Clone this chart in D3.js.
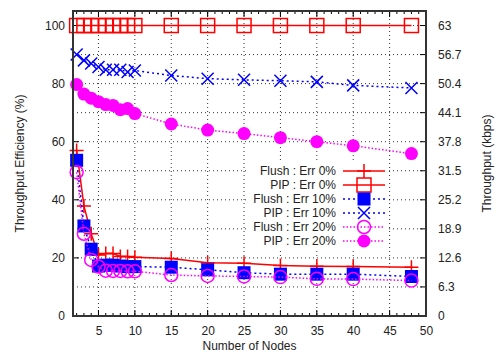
<!DOCTYPE html>
<html><head><meta charset="utf-8">
<script src="https://cdn.jsdelivr.net/npm/d3@7/dist/d3.min.js"></script>
<style>body{margin:0;background:#fff}svg{font-family:"Liberation Sans",Arial,sans-serif}</style>
</head><body><svg id="c" width="498" height="360"></svg>
<script>
const nodes = [2,3,4,5,6,7,8,9,10,15,20,25,30,35,40,48];
const flush0 = [57,37.9,28.3,21,21.5,21.5,20.5,20.5,20.2,19.8,18.3,18.2,17.4,17.1,17,16.8];
const pip0 = [100,100,100,100,100,100,100,100,100,100,100,100,100,100,100,100];
const flush10 = [53.6,31,23,17.2,17.5,17.5,17.2,17,17,16.8,15.9,14.9,14.4,14.4,14.4,13.6];
const pip10 = [90,88,86.9,85.7,84.8,84.8,84.8,84,84.5,82.8,81.7,81.3,81,80.6,79.4,78.5];
const flush20 = [49.5,28.3,19.3,17,15.6,15.5,15.5,15.4,15.4,14.1,13.8,13.6,13.4,12.8,12.7,12.2];
const pip20 = [79.7,76.4,75,73.8,72.8,72.5,71,71.4,69.7,66.1,64,62.8,61.4,60,58.6,55.9];
const xTicks = [5,10,15,20,25,30,35,40,45,50];
const yTicks = [0,20,40,60,80,100];
const y2Ticks = [0,6.3,12.6,18.9,25.2,31.5,37.8,44.1,50.4,56.7,63];
const seriesNames = ["Flush : Err 0%","PIP : Err 0%","Flush : Err 10%","PIP : Err 10%","Flush : Err 20%","PIP : Err 20%"];

const svg = d3.select("#c");
const L=73,R=426,T=11,B=316;
const x = d3.scaleLinear().domain([1.5,50]).range([L,R]);
const y = d3.scaleLinear().domain([0,105]).range([B,T]);
const y2 = d3.scaleLinear().domain([0,63*1.05]).range([B,T]);

// grid
const g = svg.append("g");
xTicks.filter(d=>d<50).forEach(d=>g.append("line").attr("x1",x(d)).attr("x2",x(d)).attr("y1",T).attr("y2",B)
  .attr("stroke","#000").attr("stroke-width",0.8).attr("stroke-dasharray","1,3"));
d3.range(10,101,10).forEach(d=>g.append("line").attr("x1",L).attr("x2",R).attr("y1",y(d)).attr("y2",y(d))
  .attr("stroke","#000").attr("stroke-width",0.8).attr("stroke-dasharray","1,3"));

// axes
const ax = svg.append("g").attr("transform",`translate(0,${B})`).call(d3.axisBottom(x).tickValues(xTicks).tickSize(0).tickPadding(10));
const axl = svg.append("g").attr("transform",`translate(${L},0)`).call(d3.axisLeft(y).tickValues(yTicks).tickSize(0).tickPadding(8));
const axr = svg.append("g").attr("transform",`translate(${R},0)`).call(d3.axisRight(y2).tickValues(y2Ticks).tickSize(0).tickPadding(12).tickFormat(d=>d));
[ax,axl,axr].forEach(a=>{a.select(".domain").remove();a.selectAll("text").attr("font-size",12).attr("fill","#222")
  .attr("font-family","'Liberation Sans',Arial,sans-serif");});

// tick marks (inward)
const tk = svg.append("g").attr("stroke","#000").attr("stroke-width",1);
xTicks.forEach(d=>{tk.append("line").attr("x1",x(d)).attr("x2",x(d)).attr("y1",B).attr("y2",B-6);
  tk.append("line").attr("x1",x(d)).attr("x2",x(d)).attr("y1",T).attr("y2",T+6);});
d3.range(2,50,1).forEach(d=>{tk.append("line").attr("x1",x(d)).attr("x2",x(d)).attr("y1",B).attr("y2",B-3);
  tk.append("line").attr("x1",x(d)).attr("x2",x(d)).attr("y1",T).attr("y2",T+3);});
yTicks.forEach(d=>tk.append("line").attr("x1",L).attr("x2",L+6).attr("y1",y(d)).attr("y2",y(d)));
y2Ticks.forEach(d=>tk.append("line").attr("x1",R).attr("x2",R-6).attr("y1",y2(d)).attr("y2",y2(d)));

// marker drawing
function marker(sel,type,color){
  if(type==="plus"){sel.append("path").attr("d","M-7,0H7M0,-7V7").attr("stroke",color).attr("stroke-width",1.5).attr("fill","none");}
  else if(type==="osq"){sel.append("rect").attr("x",-7).attr("y",-7).attr("width",14).attr("height",14).attr("fill","none").attr("stroke",color).attr("stroke-width",1.5);}
  else if(type==="fsq"){sel.append("rect").attr("x",-6.5).attr("y",-6.5).attr("width",13).attr("height",13).attr("fill",color);}
  else if(type==="x"){sel.append("path").attr("d","M-6,-6L6,6M-6,6L6,-6").attr("stroke",color).attr("stroke-width",1.5).attr("fill","none");}
  else if(type==="oc"){sel.append("circle").attr("r",6.5).attr("fill","none").attr("stroke",color).attr("stroke-width",1.5);}
  else if(type==="fc"){sel.append("circle").attr("r",6.5).attr("fill",color);}
}
const series = [
  {name:seriesNames[0],vals:flush0,color:"#ff0000",dash:null,m:"plus"},
  {name:seriesNames[1],vals:pip0,color:"#ff0000",dash:null,m:"osq"},
  {name:seriesNames[2],vals:flush10,color:"#0000ff",dash:"2,3",m:"fsq"},
  {name:seriesNames[3],vals:pip10,color:"#0000ff",dash:"2,3",m:"x"},
  {name:seriesNames[4],vals:flush20,color:"#ff00ff",dash:"1.5,2",m:"oc"},
  {name:seriesNames[5],vals:pip20,color:"#ff00ff",dash:"1.5,2",m:"fc"}
];
const line = d3.line().x((d,i)=>x(nodes[i])).y(d=>y(d));
const plot = svg.append("g");
series.forEach(s=>{
  plot.append("path").datum(s.vals).attr("d",line).attr("fill","none").attr("stroke",s.color)
    .attr("stroke-width",1.5).attr("stroke-dasharray",s.dash);
  s.vals.forEach((v,i)=>marker(plot.append("g").attr("transform",`translate(${x(nodes[i])},${y(v)})`),s.m,s.color));
});

// legend
const lg = svg.append("g");
lg.append("rect").attr("x",247).attr("y",162).attr("width",141).attr("height",86).attr("fill","#fff");
series.forEach((s,i)=>{
  const yy = 171+i*14;
  lg.append("text").attr("x",336).attr("y",yy).attr("dy","0.35em").attr("text-anchor","end")
    .attr("font-size",12).attr("fill","#222").text(s.name);
  lg.append("line").attr("x1",343).attr("x2",385).attr("y1",yy).attr("y2",yy).attr("stroke",s.color)
    .attr("stroke-width",1.5).attr("stroke-dasharray",s.dash);
  marker(lg.append("g").attr("transform",`translate(364,${yy})`),s.m,s.color);
});

// frame
svg.append("rect").attr("x",L).attr("y",T).attr("width",R-L).attr("height",B-T).attr("fill","none").attr("stroke","#333").attr("stroke-width",2);

// titles
svg.append("text").attr("x",(L+R)/2).attr("y",350).attr("text-anchor","middle").attr("font-size",12).attr("fill","#222").text("Number of Nodes");
svg.append("text").attr("transform",`translate(24,${(T+B)/2}) rotate(-90)`).attr("text-anchor","middle").attr("font-size",12).attr("fill","#222").text("Throughput Efficiency (%)");
svg.append("text").attr("transform",`translate(491,${(T+B)/2}) rotate(-90)`).attr("text-anchor","middle").attr("font-size",12).attr("fill","#222").text("Throughput (kbps)");
</script></body></html>
